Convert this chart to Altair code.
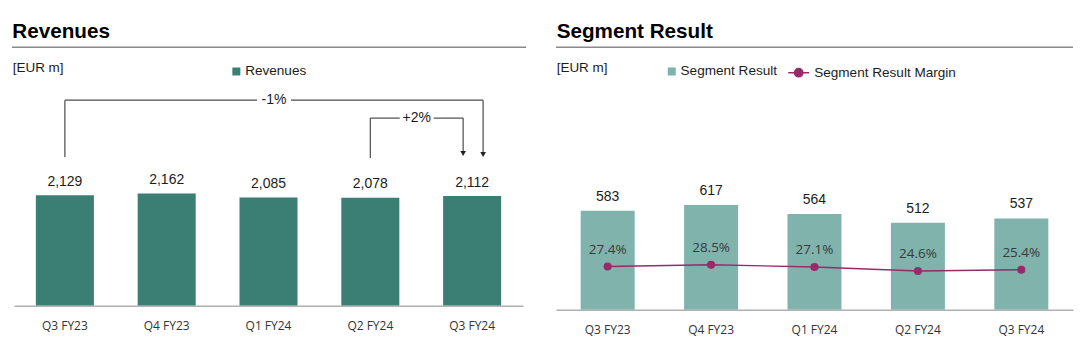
import altair as alt
import pandas as pd

# ---------------- data ----------------
quarters = ["Q3 FY23", "Q4 FY23", "Q1 FY24", "Q2 FY24", "Q3 FY24"]
revenues = [2129, 2162, 2085, 2078, 2112]
segment_result = [583, 617, 564, 512, 537]
segment_margin = [27.4, 28.5, 27.1, 24.6, 25.4]
rev_changes = [("-1%", "Q3 FY23", "Q3 FY24"), ("+2%", "Q2 FY24", "Q3 FY24")]

# ---------------- style ----------------
TEAL = "#3A7E74"
TEAL_L = "#7FB3AC"
PLUM = "#982A69"
INK = "#1c1c1c"
RULE = "#8a8a8a"
AXIS = "#b0b0b0"
BR = "#4a4a4a"
F1 = "Liberation Sans"
F2 = "Open Sans"

L_W, L_H = 510, 216
R_W, R_H = 518, 220
STEP_L = L_W / len(quarters)

PATH_LINE_DOT = ("M-1,0L1,0M0.4,0A0.4,0.4,0,1,1,-0.4,0"
                 "A0.4,0.4,0,1,1,0.4,0Z")

one = pd.DataFrame({"k": [0]})

def xaxis():
    return alt.Axis(title=None, labelFont=F2, labelFontSize=12, labelColor="#333333",
                    labelAngle=0, labelPadding=24, labelBaseline="alphabetic",
                    ticks=False, tickSize=0, domainColor=AXIS, domainWidth=1.5,
                    grid=False, zindex=1)

def band(pi):
    return alt.Scale(type="band", paddingInner=pi, paddingOuter=pi / 2)

def header(title, x0, x1, w_total):
    frame = alt.Chart(one).mark_rect(color="white").encode(
        x=alt.value(x0), x2=alt.value(x0 + w_total), y=alt.value(-90), y2=alt.value(261))
    t = alt.Chart(one).mark_text(text=title, font=F1, fontSize=20.7, fontWeight="bold",
                                 color="black", align="left", baseline="alphabetic").encode(
        x=alt.value(x0 + 12.3 if x0 < 0 else x0 + 0.7), y=alt.value(-52.7))
    r = alt.Chart(one).mark_rule(color=RULE, strokeWidth=1.5).encode(
        x=alt.value(x1[0]), x2=alt.value(x1[1]), y=alt.value(-43))
    u = alt.Chart(one).mark_text(text="[EUR m]", font=F1, fontSize=13.5, color=INK,
                                 align="left", baseline="alphabetic").encode(
        x=alt.value(x0 + 12.7 if x0 < 0 else x0 + 0.7), y=alt.value(-17.7))
    return [frame, t, r, u]

# ---------------- left: revenues ----------------
rev_df = pd.DataFrame({"quarter": quarters, "value": revenues, "series": "Revenues"})
xq = lambda: alt.X("quarter:N", sort=quarters, scale=band(0.43), axis=None)
yL = lambda: alt.Y("value:Q", scale=alt.Scale(domain=[0, 4150], nice=False), axis=None)

bars_l = alt.Chart(rev_df).mark_bar().encode(
    x=alt.X("quarter:N", sort=quarters, scale=band(0.43), axis=xaxis()),
    y=yL(),
    fill=alt.Fill("series:N", scale=alt.Scale(domain=["Revenues"], range=[TEAL]),
                  legend=alt.Legend(orient="none", legendX=216, legendY=-25.5, title=None,
                                    symbolType="square", symbolSize=64, symbolStrokeWidth=0,
                                    labelFont=F1, labelFontSize=13.6, labelColor=INK,
                                    labelOffset=2, padding=0)),
)
labels_l = alt.Chart(rev_df).mark_text(font=F1, fontSize=14, color=INK, baseline="alphabetic",
                                       dy=-9.5).encode(
    x=xq(), y=yL(), text=alt.Text("value:Q", format=","))

# bracket annotations (positions derived from category indices)
BRACKET = {"-1%": {"level": 10, "foot": 67, "tip": 67, "nudge": 11},
           "+2%": {"level": 28, "foot": 68, "tip": 66, "nudge": -9}}
GAP = 17
rows = []
for lab, a, b in rev_changes:
    st = BRACKET[lab]
    x0 = quarters.index(a)
    x1 = quarters.index(b) + st["nudge"] / STEP_L
    mid = (x0 + x1) / 2
    rows.append(dict(label=lab, x0=x0, x1=x1, mid=mid,
                     gl=mid - GAP / STEP_L, gr=mid + GAP / STEP_L,
                     level=st["level"], foot=st["foot"],
                     shaft=st["tip"] - 5, head=st["tip"] - 2.6))
br_df = pd.DataFrame(rows)
xi = lambda f: alt.X(f + ":Q", scale=alt.Scale(domain=[-0.5, len(quarters) - 0.5],
                                               nice=False, zero=False), axis=None)
xi2 = lambda f: alt.X2(f)
yp = lambda f: alt.Y(f + ":Q", scale=None, axis=None)

br_lv = alt.Chart(br_df).mark_rule(color=BR, strokeWidth=1.2).encode(
    x=xi("x0"), y=yp("level"), y2=alt.Y2("foot"))
br_h1 = alt.Chart(br_df).mark_rule(color=BR, strokeWidth=1.2).encode(
    x=xi("x0"), x2=xi2("gl"), y=yp("level"))
br_h2 = alt.Chart(br_df).mark_rule(color=BR, strokeWidth=1.2).encode(
    x=xi("gr"), x2=xi2("x1"), y=yp("level"))
br_rv = alt.Chart(br_df).mark_rule(color=BR, strokeWidth=1.2).encode(
    x=xi("x1"), y=yp("level"), y2=alt.Y2("shaft"))
br_head = alt.Chart(br_df).mark_point(shape="triangle-down", filled=True, size=32,
                                      color="#222222", opacity=1).encode(
    x=xi("x1"), y=yp("head"))
br_txt = alt.Chart(br_df).mark_text(font=F1, fontSize=14, color=INK, baseline="middle").encode(
    x=xi("mid"), y=yp("level"), text="label:N")

left = alt.layer(
    *header("Revenues", -14, (-2, 513), 527),
    bars_l, labels_l, br_lv, br_h1, br_h2, br_rv, br_head, br_txt,
).resolve_scale(x="independent", y="independent").properties(width=L_W, height=L_H)

# ---------------- right: segment result ----------------
seg_df = pd.DataFrame({"quarter": quarters, "value": segment_result,
                       "margin": segment_margin,
                       "series": "Segment Result", "mseries": "Segment Result Margin"})
seg_df["mlabel"] = [f"{m:.1f}%" for m in segment_margin]
xr = lambda: alt.X("quarter:N", sort=quarters, scale=band(0.478), axis=xaxis())
yR = lambda: alt.Y("value:Q", scale=alt.Scale(domain=[0, 1292], nice=False), axis=None)
yM = lambda: alt.Y("margin:Q", scale=alt.Scale(domain=[0, 139.2], nice=False), axis=None)

bars_r = alt.Chart(seg_df).mark_bar().encode(
    x=xr(),
    y=yR(),
    fill=alt.Fill("series:N", scale=alt.Scale(domain=["Segment Result"], range=[TEAL_L]),
                  legend=alt.Legend(orient="none", legendX=109.2, legendY=-25.5, title=None,
                                    symbolType="square", symbolSize=64, symbolStrokeWidth=0,
                                    labelFont=F1, labelFontSize=13.6, labelColor=INK,
                                    labelOffset=2, padding=0)),
)
labels_r = alt.Chart(seg_df).mark_text(font=F1, fontSize=14, color=INK, baseline="alphabetic",
                                       dy=-10).encode(
    x=xr(), y=yR(), text=alt.Text("value:Q", format=","))
line_r = alt.Chart(seg_df).mark_line(color=PLUM, strokeWidth=1.4).encode(x=xr(), y=yM())
dots_r = alt.Chart(seg_df).mark_circle(size=66, opacity=1).encode(
    x=xr(), y=yM(),
    color=alt.Color("mseries:N", scale=alt.Scale(domain=["Segment Result Margin"], range=[PLUM]),
                    legend=alt.Legend(orient="none", legendX=231.7, legendY=-29, title=None,
                                      symbolType=PATH_LINE_DOT, symbolSize=441,
                                      symbolFillColor=PLUM, symbolStrokeColor=PLUM,
                                      symbolStrokeWidth=1.4, labelFont=F1,
                                      labelFontSize=13.6, labelColor=INK,
                                      labelOffset=4, padding=0)),
)
mlabels_r = alt.Chart(seg_df).mark_text(font=F2, fontSize=13.5, color="#3a3a3a",
                                        baseline="alphabetic", dy=-12.7).encode(
    x=xr(), y=yM(), text="mlabel:N")

right = alt.layer(
    *header("Segment Result", 0, (0, 518), 525),
    bars_r, labels_r, line_r, dots_r, mlabels_r,
).resolve_scale(y="independent", color="independent", fill="independent").properties(
    width=R_W, height=R_H)

chart = alt.hconcat(left, right, spacing=28, padding=0, background="white").configure_view(
    stroke=None)

chart.save("out.html", embed_options={"renderer": "svg", "actions": False})
